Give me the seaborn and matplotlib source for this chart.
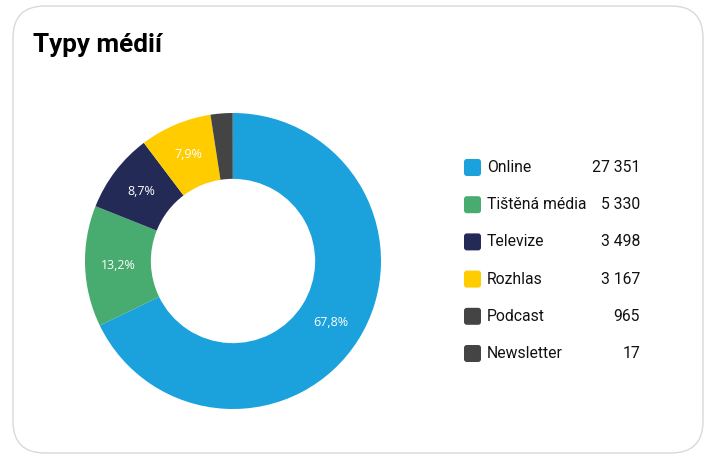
import matplotlib.pyplot as plt
import seaborn as sns
from matplotlib.patches import FancyBboxPatch

categories = ["Online", "Tištěná média", "Televize", "Rozhlas", "Podcast", "Newsletter"]
counts = [27351, 5330, 3498, 3167, 965, 17]
colors = ["#1ba1dc", "#48ab6f", "#232a55", "#ffcc00", "#444444", "#444444"]

sns.set_theme(style="white")
plt.rcParams["font.family"] = ["Roboto", "DejaVu Sans"]

W, H = 706, 461
fig = plt.figure(figsize=(W / 100, H / 100), dpi=100)
fig.patch.set_facecolor("white")

# card
card = FancyBboxPatch((13 / W, 8 / H), 690 / W, 447 / H,
                      boxstyle="round,pad=0,rounding_size=0.045",
                      transform=fig.transFigure, facecolor="white",
                      edgecolor="#d9d9d9", linewidth=1.0,
                      mutation_aspect=W / H, zorder=-5)
fig.patches.append(card)

fig.text(33 / W, 1 - 45 / H, "Typy médií", fontsize=18.8, fontweight="bold",
         va="center", ha="left", color="black")

# donut
cx, cy, r = 233, 261, 148
ax = fig.add_axes([(cx - r) / W, 1 - (cy + r) / H, 2 * r / W, 2 * r / H])
ax.set_zorder(2)
ax.patch.set_visible(False)


def fmt(pct):
    return f"{pct:.1f}%".replace(".", ",") if pct >= 5 else ""


wedges, texts, autotexts = ax.pie(
    counts, colors=colors, startangle=90, counterclock=False,
    radius=1.0, wedgeprops=dict(width=0.445, edgecolor="none"),
    autopct=fmt, pctdistance=0.778,
    textprops=dict(color="white", fontsize=9, family=["Open Sans", "DejaVu Sans"]))
ax.set_xlim(-1, 1)
ax.set_ylim(-1, 1)
ax.set_aspect("equal")
ax.axis("off")

# legend
y0, dy = 167.5, 37.2
for i, (cat, val, col) in enumerate(zip(categories, counts, colors)):
    y = y0 + i * dy
    sq = FancyBboxPatch((464 / W, 1 - (y + 8.5) / H), 17 / W, 17 / H,
                        boxstyle="round,pad=0,rounding_size=0.004",
                        transform=fig.transFigure, facecolor=col,
                        edgecolor="none", mutation_aspect=W / H)
    fig.patches.append(sq)
    fig.text(487 / W, 1 - y / H, cat, fontsize=11.3, va="center", ha="left",
             color="#111111")
    fig.text(640 / W, 1 - y / H, f"{val:,}".replace(",", " "), fontsize=11.3,
             va="center", ha="right", color="#111111")

fig.savefig("out.png", dpi=100)
